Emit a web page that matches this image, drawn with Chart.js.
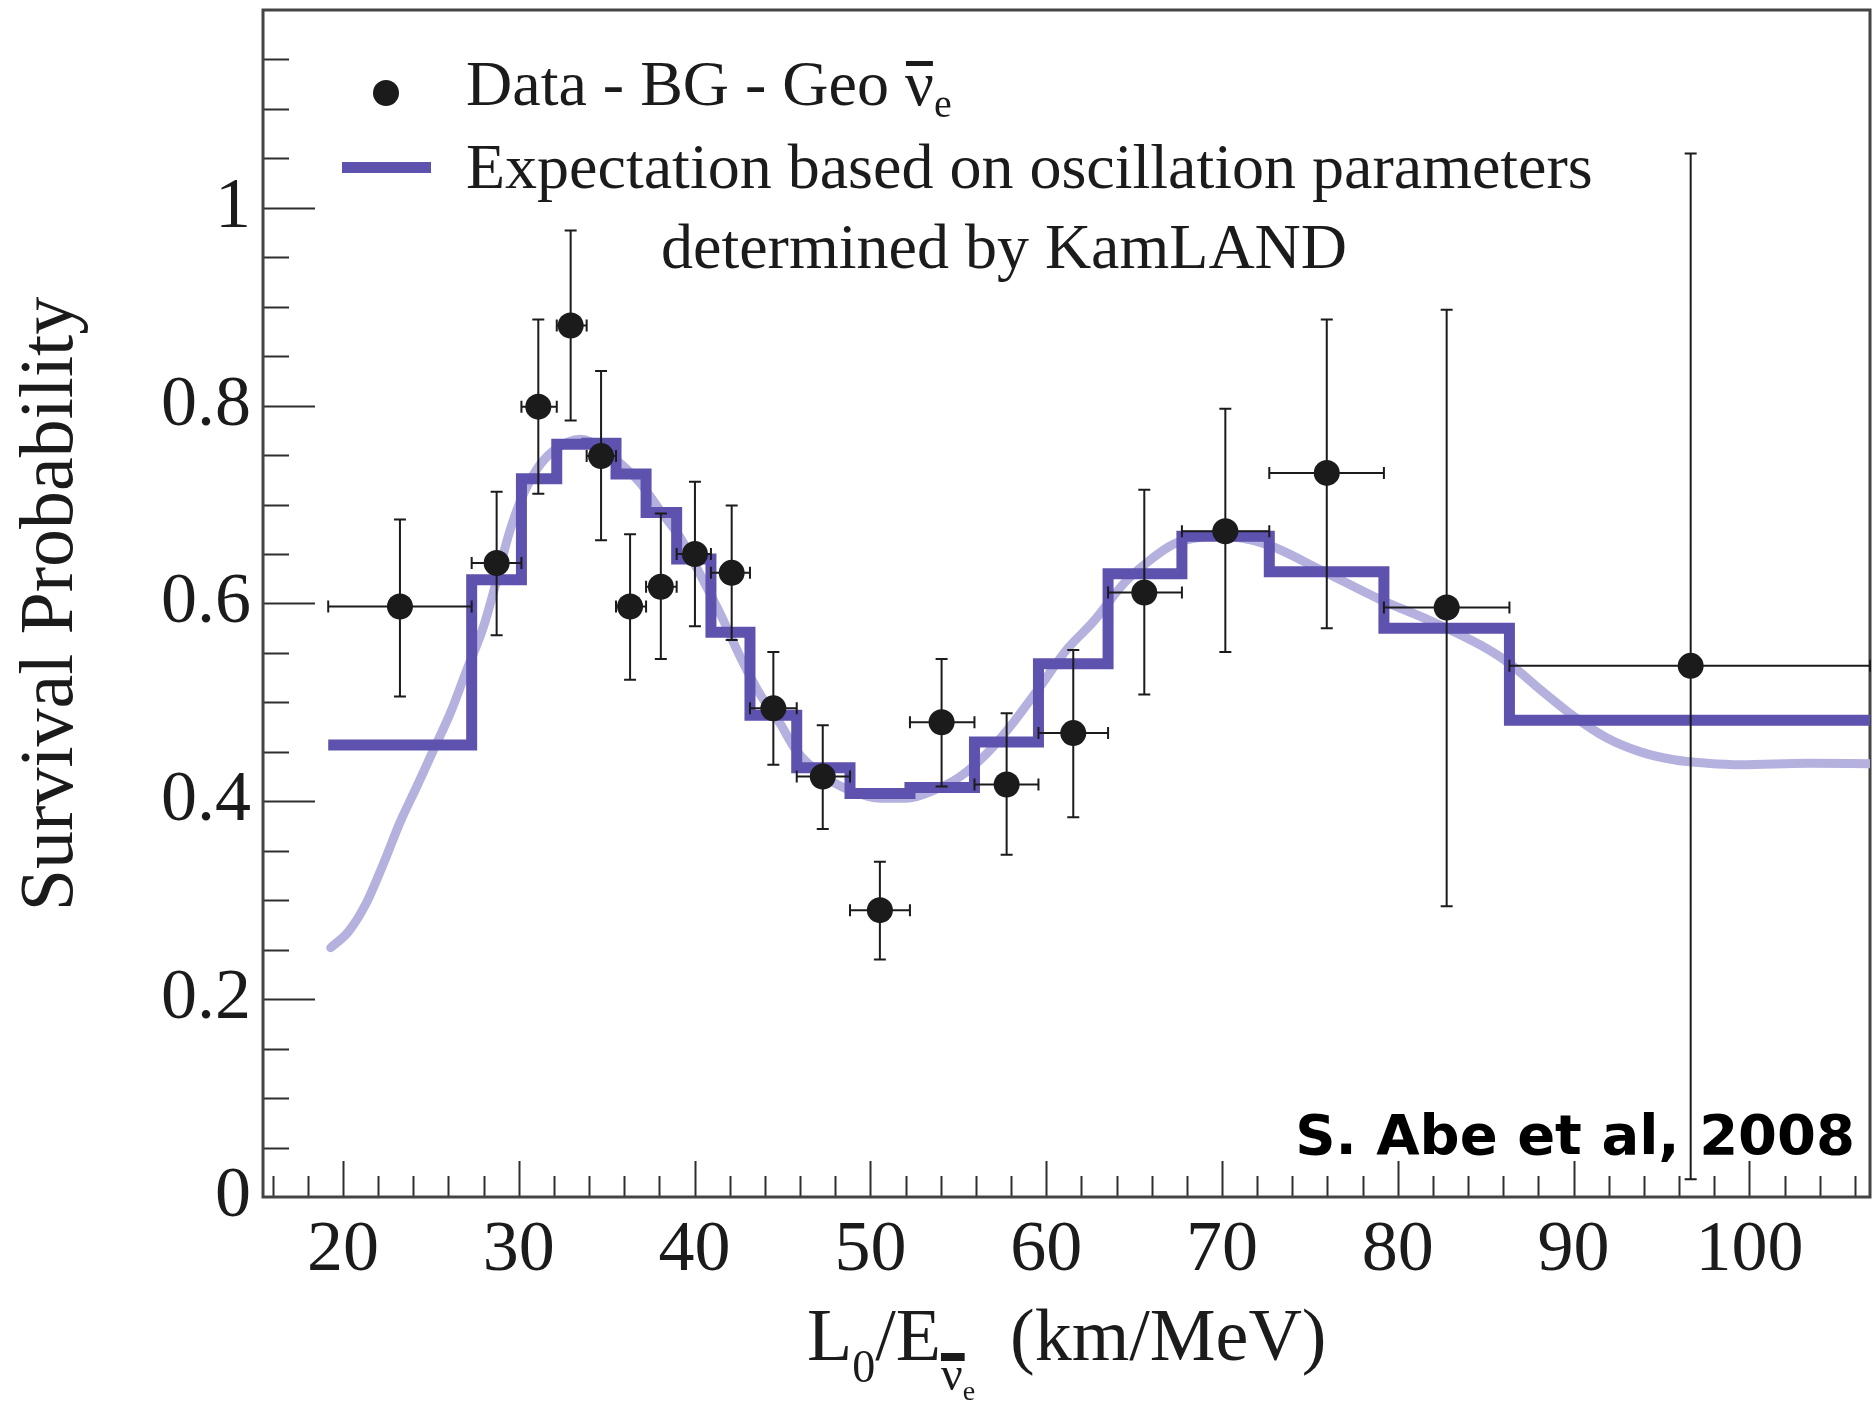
<!DOCTYPE html>
<html lang="en">
<head>
    <meta charset="UTF-8">
    <title>Survival Probability vs L0/E</title>
    <script src="https://cdn.jsdelivr.net/npm/chart.js"></script>
    <style>
        html, body { margin: 0; padding: 0; background: #fff; }
    </style>
</head>
<body>
    <canvas id="chart" width="1874" height="1404"></canvas>

    <script>
    // histogram bin edges (km/MeV)
    const binEdges = [19.16, 27.32, 30.15, 32.16, 33.86, 35.53, 37.24, 38.98, 40.93, 43.15, 45.81,
                      48.84, 52.25, 55.92, 59.56, 63.52, 67.72, 72.69, 79.21, 86.35, 106.86];
    // expectation per bin
    const expectLevels = [0.457, 0.624, 0.726, 0.761, 0.762, 0.731, 0.692, 0.645, 0.571, 0.487,
                          0.434, 0.408, 0.414, 0.460, 0.539, 0.630, 0.668, 0.632, 0.575, 0.482];

    // Data - BG - Geo points
    const dataX = [23.24, 28.74, 31.11, 32.95, 34.68, 36.33, 38.08, 40.02, 42.11, 44.48,
                   47.29, 50.54, 54.05, 57.75, 61.54, 65.58, 70.19, 75.96, 82.78, 96.66];
    const dataY = [0.597, 0.641, 0.799, 0.881, 0.749, 0.597, 0.617, 0.650, 0.631, 0.494,
                   0.425, 0.290, 0.480, 0.417, 0.469, 0.611, 0.673, 0.732, 0.596, 0.537];
    const errHigh = [0.685, 0.713, 0.887, 0.977, 0.835, 0.670, 0.691, 0.723, 0.699, 0.551,
                     0.477, 0.339, 0.544, 0.489, 0.553, 0.715, 0.797, 0.887, 0.897, 1.055];
    const errLow = [0.506, 0.568, 0.711, 0.785, 0.664, 0.523, 0.544, 0.577, 0.563, 0.437,
                    0.372, 0.240, 0.415, 0.346, 0.384, 0.508, 0.551, 0.575, 0.294, 0.018];

    // unbinned expectation (light curve)
    const curveX = [19.3, 20.3, 21.35, 22.3, 23.25, 24.2, 25.15, 26.1, 27.0, 28.0, 28.75, 29.4, 30.1,
                    31.0, 31.95, 33.5, 34.6, 35.75, 36.9, 38.0, 39.2, 40.3, 41.45, 42.6, 43.7, 44.85,
                    45.8, 47.3, 48.85, 50.55, 52.05, 53.6, 55.1, 56.6, 58.1, 59.65, 61.15, 62.7, 64.4,
                    65.7, 67.25, 68.8, 70.0, 72.5, 75.6, 79.0, 81.8, 84.7, 86.3, 88.1, 90.0, 91.9,
                    93.8, 95.7, 97.6, 99.5, 103.3, 106.86];
    const curveY = [0.252, 0.268, 0.298, 0.337, 0.379, 0.415, 0.452, 0.489, 0.531, 0.577, 0.624, 0.668, 0.704,
                    0.735, 0.754, 0.766, 0.759, 0.742, 0.722, 0.695, 0.666, 0.630, 0.590, 0.546, 0.509, 0.479,
                    0.451, 0.426, 0.411, 0.403, 0.403, 0.411, 0.425, 0.448, 0.479, 0.516, 0.553, 0.582, 0.620,
                    0.641, 0.660, 0.667, 0.668, 0.660, 0.634, 0.604, 0.583, 0.558, 0.540, 0.513, 0.486, 0.464,
                    0.450, 0.442, 0.4385, 0.437, 0.4385, 0.438];

    // axes
    const xTicks = [20, 30, 40, 50, 60, 70, 80, 90, 100];
    const yTicks = [0, 0.2, 0.4, 0.6, 0.8, 1];
    const yTickLabels = ['0', '0.2', '0.4', '0.6', '0.8', '1'];
    const X_MIN = 15.45, X_MAX = 106.86, Y_MIN = 0, Y_MAX = 1.2;
    const X_MINOR_STEP = 2, Y_MINOR_STEP = 0.05;

    const ink = '#1b1b1b';
    const histColor = '#5d52ae';
    const curveColor = '#b5b1df';
    const serif = '"Liberation Serif", "Times New Roman", serif';

    const histPoints = expectLevels.map((v, i) => ({ x: binEdges[i], y: v }));
    histPoints.push({ x: binEdges[binEdges.length - 1], y: expectLevels[expectLevels.length - 1] });
    const curvePoints = curveX.map((x, i) => ({ x: x, y: curveY[i] }));
    const dataPoints = dataX.map((x, i) => ({ x: x, y: dataY[i] }));

    // keep the plot frame where the reference has it
    function noPad(s) {
        s.paddingTop = 0; s.paddingBottom = 0;
        s.paddingLeft = 0; s.paddingRight = 0;
    }

    // frame, inner ticks, error bars, legend and titles
    const decorPlugin = {
        id: 'decor',
        beforeDatasetsDraw(chart) {
            const { ctx, chartArea: a, scales: { x, y } } = chart;
            ctx.save();
            ctx.strokeStyle = '#2e2e2e';
            ctx.lineWidth = 2;
            ctx.beginPath();
            for (let v = 16; v < X_MAX; v += X_MINOR_STEP) {
                const px = Math.round(x.getPixelForValue(v)) + 0.5;
                const major = Math.abs(v % 10) < 1e-6;
                ctx.moveTo(px, a.bottom);
                ctx.lineTo(px, a.bottom - (major ? 36 : 21));
            }
            for (let k = 1; k * Y_MINOR_STEP < Y_MAX - 1e-6; k++) {
                const v = k * Y_MINOR_STEP;
                const py = Math.round(y.getPixelForValue(v)) + 0.5;
                const major = k % 4 === 0;
                ctx.moveTo(a.left, py);
                ctx.lineTo(a.left + (major ? 52 : 26), py);
            }
            ctx.stroke();
            ctx.strokeStyle = '#444';
            ctx.lineWidth = 3;
            ctx.strokeRect(a.left, a.top, a.right - a.left, a.bottom - a.top);
            ctx.restore();
        },
        beforeDatasetDraw(chart, args) {
            if (args.index !== 2) return;
            const { ctx, scales: { x, y } } = chart;
            ctx.save();
            ctx.strokeStyle = ink;
            ctx.lineWidth = 2;
            ctx.beginPath();
            dataX.forEach((vx, i) => {
                const px = x.getPixelForValue(vx);
                const py = y.getPixelForValue(dataY[i]);
                const x0 = x.getPixelForValue(binEdges[i]);
                const x1 = Math.min(x.getPixelForValue(binEdges[i + 1]), chart.chartArea.right);
                const y0 = y.getPixelForValue(errLow[i]);
                const y1 = y.getPixelForValue(errHigh[i]);
                ctx.moveTo(px, y0); ctx.lineTo(px, y1);
                ctx.moveTo(px - 6, y0); ctx.lineTo(px + 6, y0);
                ctx.moveTo(px - 6, y1); ctx.lineTo(px + 6, y1);
                ctx.moveTo(x0, py); ctx.lineTo(x1, py);
                ctx.moveTo(x0, py - 6); ctx.lineTo(x0, py + 6);
                ctx.moveTo(x1, py - 6); ctx.lineTo(x1, py + 6);
            });
            ctx.stroke();
            ctx.restore();
        },
        afterDraw(chart) {
            const ctx = chart.ctx;
            ctx.save();
            ctx.fillStyle = ink;
            ctx.textAlign = 'left';
            ctx.textBaseline = 'alphabetic';

            // legend
            ctx.beginPath();
            ctx.arc(386, 93, 13, 0, Math.PI * 2);
            ctx.fill();
            ctx.fillStyle = histColor;
            ctx.fillRect(342, 162, 89, 11);
            ctx.fillStyle = ink;
            ctx.font = '64px ' + serif;
            const first = 'Data - BG - Geo ';
            ctx.fillText(first, 466, 105);
            const nuX = 466 + ctx.measureText(first).width;
            ctx.fillText('\u03bd', nuX, 105);
            const nuW = ctx.measureText('\u03bd').width;
            ctx.fillRect(nuX + 1, 61, nuW - 2, 5);
            ctx.font = '40px ' + serif;
            ctx.fillText('e', nuX + nuW, 117);
            ctx.font = '64px ' + serif;
            ctx.fillText('Expectation based on oscillation parameters', 466, 188);
            ctx.fillText('determined by KamLAND', 661, 268);

            // x title: L0/E(nubar e) (km/MeV)
            let cx = 807;
            const base = 1360;
            ctx.font = '74px ' + serif;
            ctx.fillText('L', cx, base); cx += ctx.measureText('L').width;
            ctx.font = '46px ' + serif;
            ctx.fillText('0', cx, base + 22); cx += ctx.measureText('0').width;
            ctx.font = '74px ' + serif;
            ctx.fillText('/E', cx, base); cx += ctx.measureText('/E').width;
            ctx.font = '48px ' + serif;
            ctx.fillText('\u03bd', cx, 1390);
            const subW = ctx.measureText('\u03bd').width;
            ctx.fillRect(cx, 1353, subW + 2, 8);
            ctx.font = '28px ' + serif;
            ctx.fillText('e', cx + subW, 1400);
            ctx.font = '74px ' + serif;
            ctx.fillText('(km/MeV)', 1010, base);

            // y title
            ctx.save();
            ctx.translate(72, 604);
            ctx.rotate(-Math.PI / 2);
            ctx.textAlign = 'center';
            ctx.font = '76px ' + serif;
            ctx.fillText('Survival Probability', 0, 0);
            ctx.restore();

            // credit
            ctx.textAlign = 'right';
            ctx.font = 'bold 56px "DejaVu Sans", Verdana, sans-serif';
            ctx.fillStyle = '#000';
            ctx.fillText('S. Abe et al, 2008', 1855, 1154);
            ctx.restore();
        }
    };

    new Chart(document.getElementById('chart'), {
        type: 'scatter',
        data: {
            datasets: [
                {
                    type: 'line',
                    label: 'unbinned',
                    data: curvePoints,
                    borderColor: curveColor,
                    borderWidth: 9,
                    borderCapStyle: 'round',
                    pointRadius: 0,
                    cubicInterpolationMode: 'monotone',
                    fill: false,
                    order: 2
                },
                {
                    type: 'line',
                    label: 'Expectation based on oscillation parameters determined by KamLAND',
                    data: histPoints,
                    borderColor: histColor,
                    borderWidth: 11,
                    borderCapStyle: 'butt',
                    borderJoinStyle: 'miter',
                    stepped: true,
                    pointRadius: 0,
                    fill: false,
                    order: 1
                },
                {
                    label: 'Data - BG - Geo',
                    data: dataPoints,
                    backgroundColor: ink,
                    borderWidth: 0,
                    pointRadius: 13,
                    order: 0
                }
            ]
        },
        options: {
            responsive: false,
            animation: false,
            layout: { autoPadding: false, padding: { top: 10, right: 4, left: 0, bottom: 0 } },
            plugins: {
                legend: { display: false },
                tooltip: { enabled: false }
            },
            scales: {
                x: {
                    type: 'linear',
                    min: X_MIN,
                    max: X_MAX,
                    grid: { display: false, drawTicks: false },
                    border: { display: false },
                    afterBuildTicks: s => { s.ticks = xTicks.map(v => ({ value: v })); },
                    afterFit: s => { s.height = 207; noPad(s); },
                    ticks: {
                        autoSkip: false,
                        maxRotation: 0,
                        padding: 11,
                        color: ink,
                        font: { family: serif, size: 72 },
                        callback: v => String(v)
                    }
                },
                y: {
                    type: 'linear',
                    min: Y_MIN,
                    max: Y_MAX,
                    grid: { display: false, drawTicks: false },
                    border: { display: false },
                    afterBuildTicks: s => { s.ticks = yTicks.map(v => ({ value: v })); },
                    afterFit: s => { s.width = 263; noPad(s); },
                    ticks: {
                        autoSkip: false,
                        padding: 12,
                        color: ink,
                        font: { family: serif, size: 72 },
                        callback: (v, i) => yTickLabels[i]
                    }
                }
            }
        },
        plugins: [decorPlugin]
    });
    </script>
</body>
</html>
